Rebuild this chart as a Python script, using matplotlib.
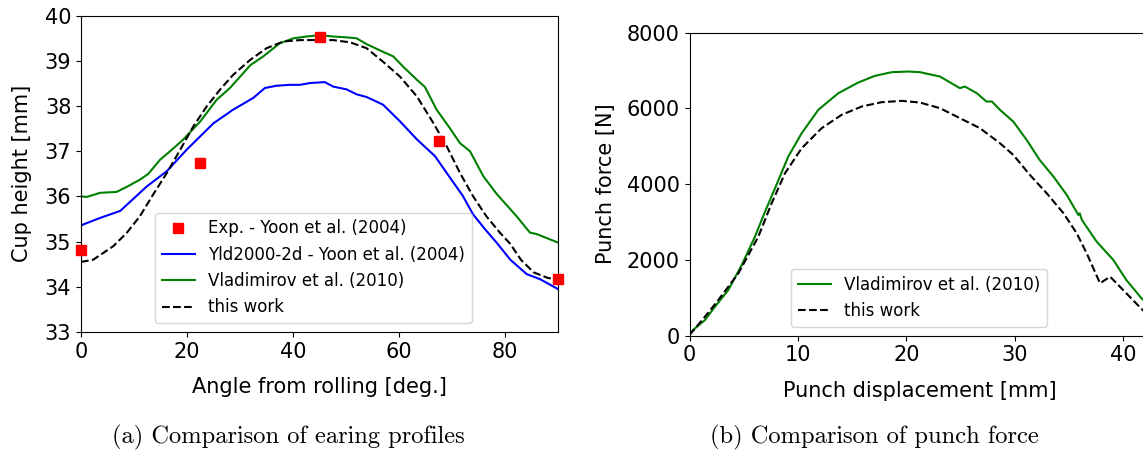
import matplotlib
matplotlib.use("Agg")
import matplotlib.pyplot as plt

# ---------------- (a) earing profiles ----------------
exp_angle = [0, 22.5, 45, 67.5, 90]
exp_height = [34.82, 36.75, 39.53, 37.23, 34.18]

yld_angle = [0, 3.5, 7.4, 12.4, 16.2, 19.9, 25, 28.7, 32.5, 34.7, 36.9, 39.4, 41.3, 43.2,
             46, 47.6, 50.1, 52, 53.9, 57, 60.2, 63.4, 66.8, 69.6, 72.0, 74, 76.2, 78.4,
             81, 84.1, 86.6, 90]
yld_height = [35.36, 35.52, 35.68, 36.22, 36.56, 37.03, 37.62, 37.92, 38.18, 38.4, 38.45,
              38.47, 38.47, 38.51, 38.53, 38.43, 38.37, 38.26, 38.2, 38.03, 37.66, 37.26,
              36.89, 36.42, 36.02, 35.6, 35.28, 34.98, 34.6, 34.28, 34.17, 33.95]

vla_angle = [0, 1.1, 3.6, 6.7, 8.6, 11.1, 12.7, 14.9, 16.8, 19.3, 22.5, 25.6, 28.1, 32,
             34.4, 37.5, 40.1, 42.6, 45.1, 47.6, 50.1, 52, 53.9, 57, 58.9, 60.8, 63.4,
             64.9, 67.1, 69.6, 71.5, 73.4, 75.9, 78.4, 82.2, 84.7, 85.9, 90]
vla_height = [36.0, 35.99, 36.08, 36.1, 36.21, 36.37, 36.5, 36.81, 37.0, 37.26, 37.66,
              38.14, 38.4, 38.91, 39.1, 39.39, 39.5, 39.54, 39.57, 39.54, 39.52, 39.5,
              39.37, 39.2, 39.1, 38.87, 38.58, 38.42, 37.92, 37.51, 37.18, 37.0, 36.45,
              36.06, 35.56, 35.2, 35.17, 34.98]

tw_angle = [0, 2.3, 6.1, 8.6, 11.1, 13.6, 16.2, 18.7, 21.2, 23.7, 26.2, 28.7, 31.9, 35,
            38.2, 41.3, 44.5, 47.6, 50.8, 53.9, 57, 60.2, 63.4, 66.5, 69, 71.5, 74, 76.5,
            79.1, 81, 83, 85.4, 88, 90]
tw_height = [34.55, 34.6, 34.9, 35.19, 35.56, 36.04, 36.52, 37.03, 37.55, 37.99, 38.36,
             38.69, 39.02, 39.28, 39.43, 39.46, 39.46, 39.46, 39.41, 39.28, 38.98, 38.65,
             38.21, 37.62, 37.11, 36.52, 36.0, 35.56, 35.19, 34.95, 34.6, 34.32, 34.2, 34.15]

# ---------------- (b) punch force ----------------
vla_disp = [0, 0.51, 1.43, 2.35, 3.58, 4.82, 6.04, 6.97, 7.89, 9.11, 10.35, 11.88, 13.73,
            15.57, 17.1, 18.65, 20.2, 21.26, 23.11, 24.95, 25.4, 26.5, 27.4, 27.9, 28.64,
            29.87, 31.1, 32.3, 33.57, 34.8, 35.87, 36.0, 36.2, 37.56, 39.1, 40.3, 41.7, 42.6]
vla_force = [63, 195, 414, 766, 1206, 1866, 2614, 3274, 3891, 4726, 5343, 5959, 6399,
             6680, 6856, 6953, 6970, 6953, 6838, 6531, 6575, 6399, 6178, 6178, 5959,
             5650, 5167, 4639, 4199, 3715, 3187, 3230, 3053, 2482, 1998, 1470, 986, 760]

tw_disp = [0, 1.43, 2.66, 4.51, 6.35, 7.58, 8.81, 10.35, 12.19, 14.03, 15.88, 17.72,
           19.57, 21.26, 23.11, 24.95, 26.8, 28.64, 29.87, 31.4, 32.95, 34.5, 35.72,
           36.64, 37.87, 38.8, 40.3, 41.8, 42.6]
tw_force = [18, 502, 942, 1647, 2614, 3495, 4287, 4947, 5475, 5827, 6047, 6161, 6196,
            6152, 6003, 5739, 5475, 5079, 4770, 4243, 3759, 3231, 2703, 2175, 1383, 1558,
            1118, 678, 520]

W, H = 1143, 455
fig = plt.figure(figsize=(W / 100, H / 100), dpi=100)

tick_fs = 15
label_fs = 15
leg_fs = 12

# left axes
ax1 = fig.add_axes([81 / W, (H - 332) / H, 477 / W, 316.3 / H])
ax1.plot(exp_angle, exp_height, 's', color='red', markersize=7, clip_on=False,
         label='Exp. - Yoon et al. (2004)', zorder=5)
ax1.plot(yld_angle, yld_height, '-', color='blue', lw=1.5,
         label='Yld2000-2d - Yoon et al. (2004)')
ax1.plot(vla_angle, vla_height, '-', color='green', lw=1.5,
         label='Vladimirov et al. (2010)')
ax1.plot(tw_angle, tw_height, '--', color='black', lw=1.5, label='this work')
ax1.set_xlim(0, 90)
ax1.set_ylim(33, 40)
ax1.set_xticks([0, 20, 40, 60, 80])
ax1.set_yticks(range(33, 41))
ax1.tick_params(labelsize=tick_fs)
ax1.set_xlabel('Angle from rolling [deg.]', fontsize=label_fs, labelpad=11)
ax1.set_ylabel('Cup height [mm]', fontsize=label_fs, labelpad=9)
ax1.legend(loc='lower left', bbox_to_anchor=(0.155, 0.028), borderaxespad=0,
           fontsize=leg_fs)

# right axes
xr = 42.5
ax2 = fig.add_axes([689.5 / W, (H - 335.7) / H, xr * 10.84 / W, 303.2 / H])
ax2.plot(vla_disp, vla_force, '-', color='green', lw=1.5, label='Vladimirov et al. (2010)')
ax2.plot(tw_disp, tw_force, '--', color='black', lw=1.5, label='this work')
ax2.set_xlim(0, xr)
ax2.set_ylim(0, 8000)
ax2.set_xticks([0, 10, 20, 30, 40])
ax2.set_yticks([0, 2000, 4000, 6000, 8000])
ax2.tick_params(labelsize=tick_fs)
ax2.set_xlabel('Punch displacement [mm]', fontsize=label_fs, labelpad=11)
ax2.set_ylabel('Punch force [N]', fontsize=label_fs, labelpad=7.6)
ax2.legend(loc='lower left', bbox_to_anchor=(0.22, 0.03), borderaxespad=0,
           fontsize=leg_fs)

fig.text(288 / W, 1 - 437 / H, '(a) Comparison of earing profiles', fontname='cmr10',
         fontsize=17.6, ha='center', va='center')
fig.text(874 / W, 1 - 437 / H, '(b) Comparison of punch force', fontname='cmr10',
         fontsize=17.6, ha='center', va='center')

fig.savefig('out.png', dpi=100)
